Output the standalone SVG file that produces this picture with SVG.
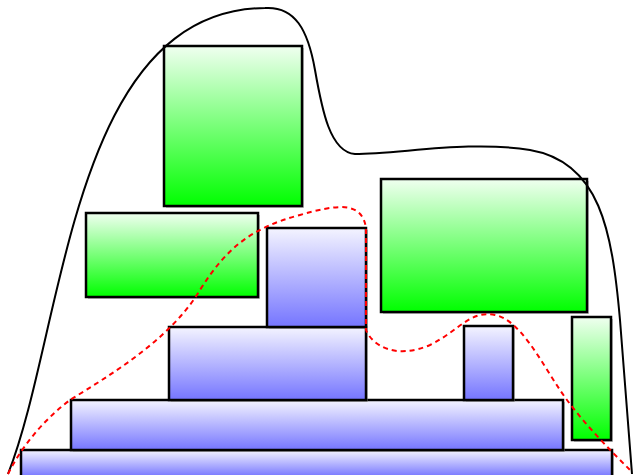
<svg xmlns="http://www.w3.org/2000/svg" width="635" height="475" viewBox="0 0 635 475">
<defs>
<linearGradient id="gg" x1="0" y1="0" x2="0" y2="1"><stop offset="0" stop-color="#f0fff0"/><stop offset="1" stop-color="#00ff00"/></linearGradient>
<linearGradient id="bg" x1="0" y1="0" x2="0" y2="1"><stop offset="0" stop-color="#f4f4ff"/><stop offset="1" stop-color="#7575ff"/></linearGradient>
<style>
.g{fill:url(#gg);stroke:#000;stroke-width:2.5}
.b{fill:url(#bg);stroke:#000;stroke-width:2.5}
.s{fill:#888;opacity:0.5}
.curve{fill:none;stroke:#000;stroke-width:2}
.red{fill:none;stroke:#ff0000;stroke-width:2;stroke-dasharray:5,4}
</style>
</defs>
<g id="B5"><rect class="s" x="23" y="452" width="591" height="25"/><rect class="b" x="21" y="450" width="591" height="27"/></g>
<g id="B4"><rect class="s" x="73" y="402" width="492" height="50"/><rect class="b" x="71" y="400" width="492" height="50"/></g>
<g id="B2"><rect class="s" x="171" y="329" width="197" height="73"/><rect class="b" x="169" y="327" width="197" height="73"/></g>
<g id="B3"><rect class="s" x="466" y="328" width="49" height="74"/><rect class="b" x="464" y="326" width="49" height="74"/></g>
<g id="B1"><rect class="s" x="269" y="230" width="99" height="99"/><rect class="b" x="267" y="228" width="99" height="99"/></g>
<g id="G1"><rect class="s" x="166" y="48" width="138" height="160"/><rect class="g" x="164" y="46" width="138" height="160"/></g>
<g id="G2"><rect class="s" x="88" y="215" width="172" height="84"/><rect class="g" x="86" y="213" width="172" height="84"/></g>
<g id="G3"><rect class="s" x="383" y="181" width="206" height="133"/><rect class="g" x="381" y="179" width="206" height="133"/></g>
<g id="G4"><rect class="s" x="574" y="319" width="39" height="123"/><rect class="g" x="572" y="317" width="39" height="123"/></g>
<g id="connectors">
<path class="curve" d="M8,474 C65,330 70,10 265,8 C295,6 308,30 315,70 C322,110 330,152 355,154 C400,154 470,140 530,150 C600,162 612,230 620,320 L632,474"/>
<path class="red" d="M8,474 C25,440 50,415 70,400 C110,375 170,340 200,290 C225,250 250,228 300,215 C335,205 362,200 366,228 L366,330 C372,345 395,360 430,345 C460,330 470,310 495,315 C520,320 540,360 560,390 C580,420 610,450 632,472"/>
</g>
</svg>
